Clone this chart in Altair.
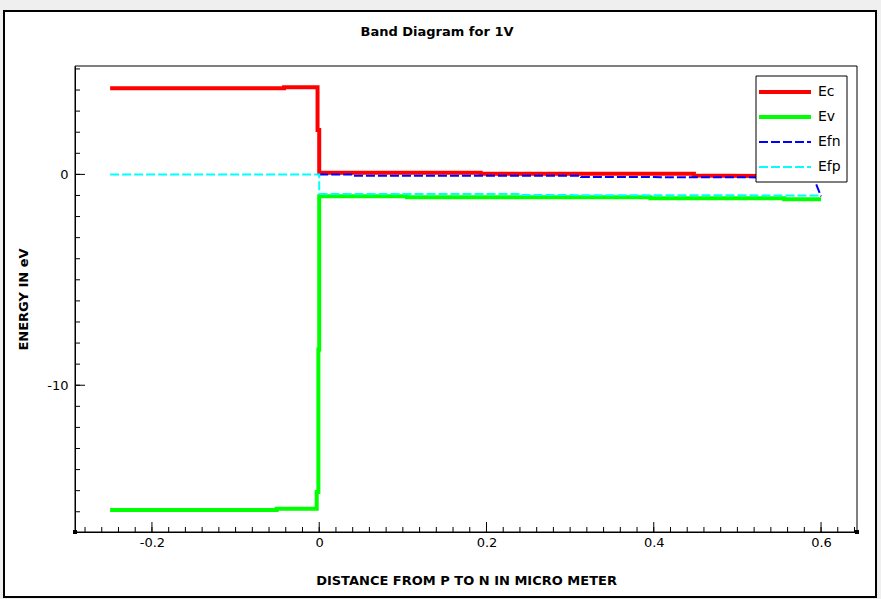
import altair as alt
import pandas as pd

# ---- data ----
ec_x = [-0.25, -0.042, -0.042, -0.002, -0.002, 0.0, 0.0, 0.193, 0.193, 0.448, 0.448, 0.6]
ec_y = [4.08, 4.08, 4.13, 4.13, 2.1, 2.1, 0.08, 0.08, 0.03, 0.03, -0.05, -0.1]

ev_x = [-0.25, -0.051, -0.051, -0.003, -0.003, -0.001, -0.001, 0.0, 0.0,
        0.105, 0.105, 0.396, 0.396, 0.556, 0.556, 0.6]
ev_y = [-15.92, -15.92, -15.86, -15.86, -15.06, -15.06, -8.3, -8.3, -1.04,
        -1.04, -1.09, -1.09, -1.13, -1.13, -1.18, -1.18]

efn_x = [0.0, 0.04, 0.04, 0.313, 0.313, 0.591, 0.6]
efn_y = [-0.01, -0.01, -0.07, -0.07, -0.12, -0.15, -1.04]

efp_x = [-0.25, 0.0, 0.0, 0.241, 0.241, 0.6]
efp_y = [0.0, 0.0, -0.93, -0.93, -0.98, -1.0]

solid_names = ["Ec", "Ev"]
solid_colors = ["#ff0000", "#00ff00"]
dash_names = ["Efn", "Efp"]
dash_colors = ["#0000ff", "#00ffff"]
DASH = [9, 3]
THICK, THIN = 4, 2

x_labels = [-0.2, 0.0, 0.2, 0.4, 0.6]
y_labels = [0, -10]
x_minor = [round(-0.28 + 0.02 * i, 2) for i in range(47)]
y_minor = list(range(-16, 6))

TITLE = "Band Diagram for 1V"

X_DOMAIN = [-0.292, 0.643]
Y_DOMAIN = [-16.96, 5.14]
W, H = 782, 466

rows = []
for name, xs, ys in [("Ec", ec_x, ec_y), ("Ev", ev_x, ev_y), ("Efn", efn_x, efn_y), ("Efp", efp_x, efp_y)]:
    for i, (xv, yv) in enumerate(zip(xs, ys)):
        rows.append({"series": name, "i": i, "x": xv, "y": yv})
df = pd.DataFrame(rows)

xscale = alt.Scale(domain=X_DOMAIN, nice=False, zero=False)
yscale = alt.Scale(domain=Y_DOMAIN, nice=False, zero=False)

font = "DejaVu Sans"

bg = alt.Chart(pd.DataFrame({"a": [0]})).mark_rect(
    fill="white", stroke="black", strokeWidth=2
).encode(
    x=alt.value(-71), x2=alt.value(801), y=alt.value(-55), y2=alt.value(531)
)

title = alt.Chart(pd.DataFrame({"t": [TITLE]})).mark_text(
    font=font, fontSize=13, fontWeight="bold", color="black", align="center", baseline="middle"
).encode(x=alt.value(362), y=alt.value(-34), text="t:N")

x_enc = alt.X("x:Q", scale=xscale,
              axis=alt.Axis(values=x_labels, labelExpr="toString(datum.value)", ticks=False,
                            grid=False, domainColor="black", labelColor="black",
                            labelFont=font, labelFontSize=13, labelPadding=4,
                            title="DISTANCE FROM P TO N IN MICRO METER",
                            titleFont=font, titleFontSize=13, titleFontWeight="bold",
                            titleColor="black", titlePadding=25, zindex=1, labelFlush=False))
y_enc = alt.Y("y:Q", scale=yscale,
              axis=alt.Axis(values=y_labels, labelExpr="toString(datum.value)", ticks=False,
                            grid=False, domainColor="black", labelColor="black",
                            labelFont=font, labelFontSize=13, labelPadding=7,
                            title="ENERGY IN eV",
                            titleFont=font, titleFontSize=13, titleFontWeight="bold",
                            titleColor="black", titlePadding=16, zindex=1))

legend_common = dict(title=None, orient="none", symbolType="stroke", symbolSize=2704,
                     clipHeight=20, rowPadding=5, padding=0,
                     labelFont=font, labelFontSize=14, labelColor="black", zindex=2)

solid = alt.Chart(df).transform_filter(
    alt.FieldOneOfPredicate(field="series", oneOf=solid_names)
).mark_line(strokeCap="butt", strokeJoin="miter", strokeWidth=THICK).encode(
    x=x_enc, y=y_enc,
    color=alt.Color("series:N", scale=alt.Scale(domain=solid_names, range=solid_colors),
                    legend=alt.Legend(legendX=682, legendY=16, labelOffset=5,
                                      symbolStrokeWidth=THICK, **legend_common)),
    order=alt.Order("i:Q"),
)

dashed = alt.Chart(df).transform_filter(
    alt.FieldOneOfPredicate(field="series", oneOf=dash_names)
).mark_line(strokeCap="butt", strokeJoin="miter", strokeWidth=THIN, strokeDash=DASH).encode(
    x=x_enc, y=y_enc,
    color=alt.Color("series:N", scale=alt.Scale(domain=dash_names, range=dash_colors),
                    legend=alt.Legend(legendX=683, legendY=66, labelOffset=6,
                                      symbolStrokeWidth=THIN, symbolDash=DASH, **legend_common)),
    order=alt.Order("i:Q"),
)

legend_box = alt.Chart(pd.DataFrame({"a": [0]})).mark_rect(
    fill="white", stroke="black", strokeWidth=1
).encode(x=alt.value(681), x2=alt.value(772), y=alt.value(10), y2=alt.value(116))

xt_minor = alt.Chart(pd.DataFrame({"t": x_minor})).mark_rule(color="black", strokeWidth=1).encode(
    x=alt.X("t:Q", scale=xscale), y=alt.value(H), y2=alt.value(H - 5))
xt_major = alt.Chart(pd.DataFrame({"t": x_labels})).mark_rule(color="black", strokeWidth=1).encode(
    x=alt.X("t:Q", scale=xscale), y=alt.value(H), y2=alt.value(H - 10))
yt_minor = alt.Chart(pd.DataFrame({"t": y_minor})).mark_rule(color="black", strokeWidth=1).encode(
    y=alt.Y("t:Q", scale=yscale), x=alt.value(0), x2=alt.value(5))
yt_major = alt.Chart(pd.DataFrame({"t": y_labels})).mark_rule(color="black", strokeWidth=1).encode(
    y=alt.Y("t:Q", scale=yscale), x=alt.value(0), x2=alt.value(10))

frame = alt.Chart(pd.DataFrame({"a": [0]})).mark_rect(
    fillOpacity=0, stroke="black", strokeWidth=1
).encode(x=alt.value(0), x2=alt.value(W), y=alt.value(0), y2=alt.value(H))

corners = alt.Chart(pd.DataFrame({"c": [0, W]})).mark_square(
    color="black", size=16, opacity=1, filled=True
).encode(x=alt.X("c:Q", scale=None), y=alt.value(H))

chart = alt.layer(bg, title, solid, dashed, legend_box, xt_minor, xt_major, yt_minor, yt_major,
                  frame, corners).resolve_scale(color="independent").properties(
    width=W, height=H,
    autosize=alt.AutoSizeParams(type="none"),
    padding={"left": 75, "top": 66, "right": 24, "bottom": 67},
    background="#efefef",
).configure_view(stroke=None)

chart.save("out.html", embed_options={"renderer": "svg", "actions": False})
